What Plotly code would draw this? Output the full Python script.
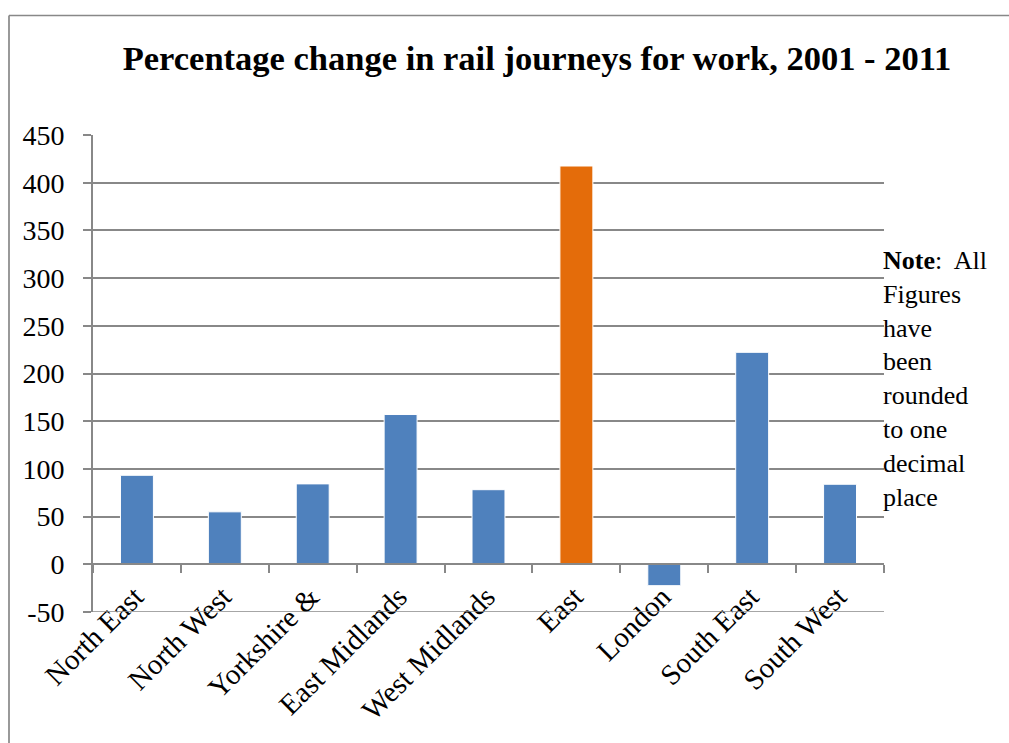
import plotly.graph_objects as go

regions = ["North East", "North West", "Yorkshire &", "East Midlands", "West Midlands",
           "East", "London", "South East", "South West"]
pct_change = [93.3, 55.0, 84.3, 157.0, 78.2, 417.5, -22.4, 222.2, 83.9]
highlight = "East"
y_ticks = [-50, 0, 50, 100, 150, 200, 250, 300, 350, 400, 450]

BLUE = "#4F81BD"
ORANGE = "#E46C0A"
GRID = "#888888"
FONT = "Liberation Serif"

W, H = 1009, 743
L, R, T, B = 93, 884, 135, 612  # plot area in px


def px2paper_x(px):
    return (px - L) / (R - L)


def px2paper_y(py):
    return (B - py) / (B - T)


colors = [ORANGE if r == highlight else BLUE for r in regions]

fig = go.Figure()
fig.add_trace(go.Bar(
    x=regions, y=pct_change,
    marker=dict(color=colors, line=dict(color="#FFFFFF", width=1)),
    hoverinfo="x+y",
))

ymin, ymax = y_ticks[0], y_ticks[-1]
zero_pos = (0 - ymin) / (ymax - ymin)

fig.update_layout(
    width=W, height=H,
    margin=dict(l=L, r=W - R, t=T, b=H - B, pad=0),
    paper_bgcolor="white", plot_bgcolor="white",
    showlegend=False,
    bargap=0.625,
    font=dict(family=FONT, size=27, color="black"),
    title=dict(
        text="<b>Percentage change in rail journeys for work, 2001 - 2011</b>",
        font=dict(family=FONT, size=34.5, color="black"),
        x=537 / W, xanchor="center", xref="container",
        y=1 - 58 / H, yanchor="middle", yref="container",
    ),
    xaxis=dict(
        type="category",
        anchor="free", position=zero_pos,
        showline=True, linecolor=GRID, linewidth=1.7,
        ticks="outside", tickson="boundaries", ticklen=8, tickwidth=1.5, tickcolor=GRID,
        tickangle=-45,
        tickfont=dict(family=FONT, size=29, color="black"),
        ticklabelstandoff=3,
        ticklabelshift=-2,
        showgrid=False,
    ),
    yaxis=dict(
        range=[ymin, ymax],
        tickvals=y_ticks,
        ticktext=[str(v) for v in y_ticks],
        showline=True, linecolor=GRID, linewidth=1.7,
        ticks="outside", ticklen=8, tickwidth=1.7, tickcolor=GRID,
        showgrid=True, gridcolor=GRID, gridwidth=1.7,
        zeroline=False,
        tickfont=dict(family=FONT, size=28, color="black"),
        ticklabelstandoff=13,
    ),
)

# Bottom gridline at the lowest tick
fig.add_shape(type="line", xref="paper", yref="y",
              x0=0, x1=1, y0=ymin, y1=ymin,
              line=dict(color=GRID, width=1.7))

# Outer chart frame (top and left edges)
fig.add_shape(type="line", xref="paper", yref="paper",
              x0=px2paper_x(9), x1=px2paper_x(W + 5), y0=px2paper_y(15.5), y1=px2paper_y(15.5),
              line=dict(color=GRID, width=1.7))
fig.add_shape(type="line", xref="paper", yref="paper",
              x0=px2paper_x(9), x1=px2paper_x(9), y0=px2paper_y(15.5), y1=px2paper_y(H + 5),
              line=dict(color=GRID, width=1.7))

note_lines = ["<b>Note</b>:  All", "Figures", "have", "been", "rounded", "to one", "decimal", "place"]
fig.add_annotation(
    text="<br>".join(note_lines),
    xref="paper", yref="paper",
    x=px2paper_x(881), y=px2paper_y(244),
    xanchor="left", yanchor="top", align="left",
    showarrow=False,
    font=dict(family=FONT, size=26, color="black"),
)

fig.write_html("out.html")
